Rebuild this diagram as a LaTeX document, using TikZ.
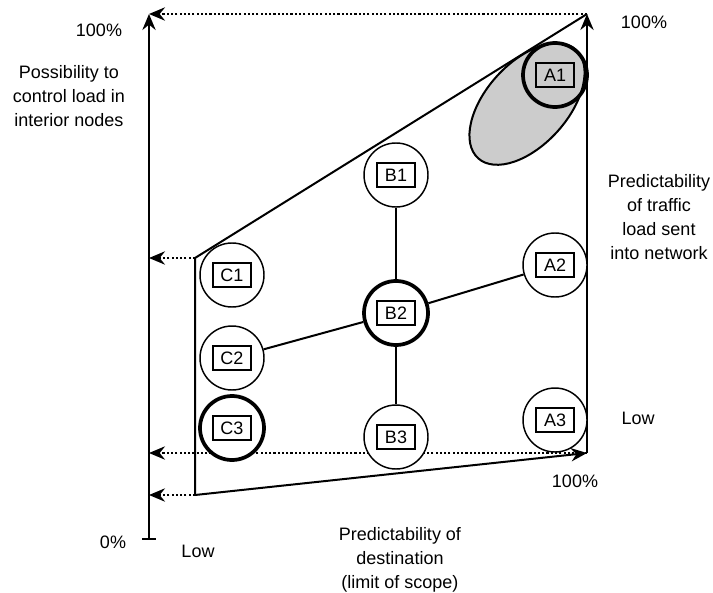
\documentclass[tikz,border=0pt]{standalone}
\usepackage{fontspec}
\setmainfont{Liberation Sans}
\usetikzlibrary{arrows.meta}

\begin{document}
\begin{tikzpicture}[x=0.75pt,y=-0.75pt,>={Stealth[length=12pt,width=10pt,inset=4pt]},
  every node/.style={font=\fontsize{13.5}{18}\selectfont},
  site/.style={draw, circle, fill=white, line width=1.1pt, minimum size=48pt, inner sep=0pt},
  hot/.style={site, line width=2.8pt},
  tag/.style={draw, rectangle, line width=1.5pt, minimum width=29pt, minimum height=18.5pt, inner sep=0pt},
  axis/.style={line width=1.5pt},
  guide/.style={line width=1.6pt, dash pattern=on 1.6pt off 1.6pt},
  txt/.style={align=center}]

  \useasboundingbox (0,0) rectangle (713,592);

  % corners of the region
  \coordinate (o) at (149,539);
  \coordinate (ytop) at (149,14);
  \coordinate (rt) at (587,14);
  \coordinate (rb) at (587,453);
  \coordinate (lt) at (195,258);
  \coordinate (lb) at (195,495);
  \coordinate (y1) at (149,258);
  \coordinate (y2) at (149,453);
  \coordinate (y3) at (149,495);

  % shaded area round A1
  \draw[line width=1.5pt, fill=gray!40, rotate around={48:(527,104)}]
    (527,104) ellipse (73 and 41);

  % axes and outline
  \draw[axis,->] (o) -- (ytop);
  \draw[axis] ([xshift=-5pt]o) -- ([xshift=5pt]o);
  \draw[axis,->] (rb) -- (rt);
  \draw[axis,->] (lb) -- (rb);
  \draw[axis] (lb) -- (lt) -- (rt);
  \draw[guide,->] (rt) -- (ytop);
  \draw[guide,->] (lt) -- (y1);
  \draw[guide,->] (rb) -- (y2);
  \draw[guide,->] (lb) -- (y3);

  % sites
  \node[site] (B1) at (396,175) {};
  \node[hot]  (B2) at (396,313) {};
  \node[site] (B3) at (396,437) {};
  \node[site] (C1) at (232,275) {};
  \node[site] (C2) at (232,358) {};
  \node[hot]  (C3) at (232,428) {};
  \node[site] (A2) at (555,265) {};
  \node[site] (A3) at (555,420) {};
  \node[hot, fill=none] (A1) at (555,75) {};

  \draw[axis] (B1) -- (B2) -- (B3);
  \draw[axis] (C2) -- (B2) -- (A2);

  \foreach \s in {A1,A2,A3,B1,B2,B3,C1,C2,C3}
    \node[tag] (\s t) at (\s) {\s};

  % labels
  \node (ymax) at (99,30) {100\%};
  \node (ymin) at (113,542) {0\%};
  \node[txt] (ylab) at (69,96) {Possibility to\\control load in\\interior nodes};
  \node (xmax) at (644,22) {100\%};
  \node[txt] (rlab) at (659,217) {Predictability\\of traffic\\load sent\\into network};
  \node (rlow) at (638,418) {Low};
  \node (bmax) at (575,481) {100\%};
  \node (blow) at (198,551) {Low};
  \node[txt] (xlab) at (400,560) {Predictability of\\destination\\(limit of scope)};
\end{tikzpicture}
\end{document}
